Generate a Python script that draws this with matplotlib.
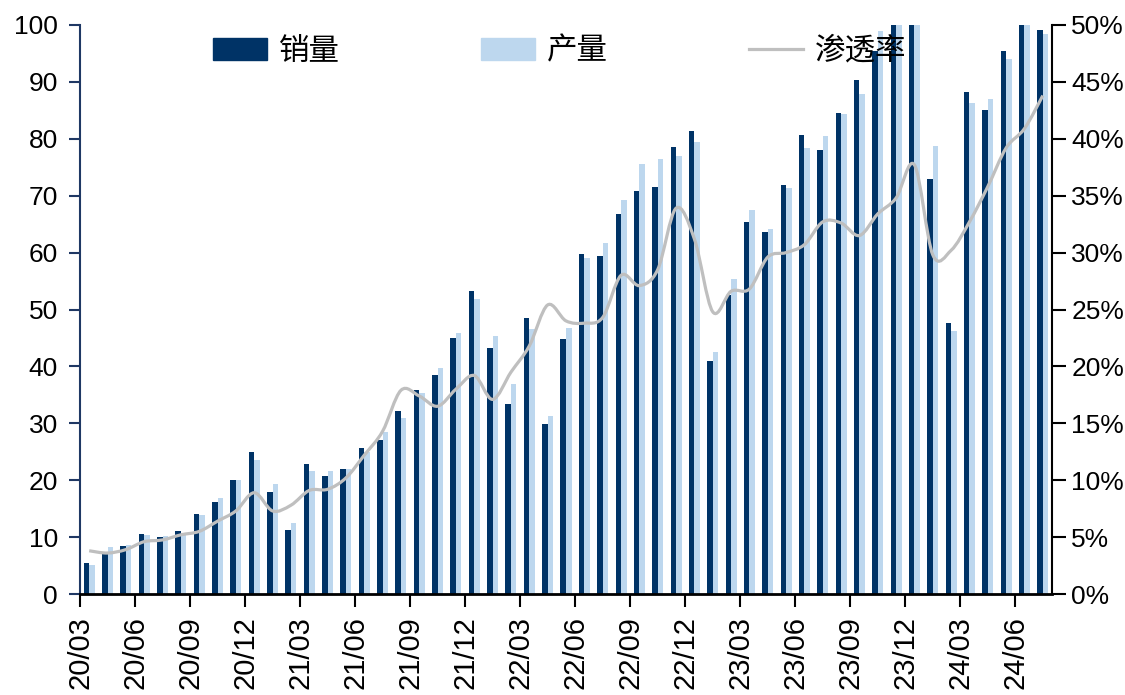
import numpy as np
import matplotlib
matplotlib.use("Agg")
import matplotlib.pyplot as plt
from matplotlib.patches import Patch, PathPatch
from matplotlib.lines import Line2D
from matplotlib.path import Path

plt.rcParams["font.family"] = ["Liberation Sans", "Noto Sans CJK SC", "DejaVu Sans"]

# 月度数据 20/03 - 24/07
months = [f"{y:02d}/{m:02d}" for y in range(20, 25) for m in range(1, 13)]
months = months[months.index("20/03"):months.index("24/07") + 1]

sales = [5.4, 7.2, 8.4, 10.5, 10.0, 11.0, 14.0, 16.1, 20.1, 25.0, 18.0, 11.2,
         22.8, 20.8, 21.9, 25.7, 27.1, 32.2, 35.9, 38.5, 45.0, 53.2, 43.3, 33.4,
         48.5, 29.9, 44.8, 59.7, 59.4, 66.7, 70.8, 71.5, 78.6, 81.4, 41.0, 52.5,
         65.3, 63.7, 71.8, 80.6, 78.1, 84.6, 90.3, 95.5, 112.0, 119.0, 73.0, 47.7,
         88.3, 85.0, 95.5, 104.0, 99.1]
output = [5.1, 8.2, 8.6, 10.3, 10.2, 10.7, 13.8, 16.8, 20.0, 23.6, 19.4, 12.4,
          21.7, 21.7, 21.9, 24.9, 28.5, 31.0, 35.4, 39.8, 45.9, 51.8, 45.4, 36.9,
          46.6, 31.3, 46.8, 59.0, 61.6, 69.2, 75.5, 76.4, 76.9, 79.5, 42.6, 55.3,
          67.4, 64.1, 71.3, 78.4, 80.5, 84.3, 87.9, 98.9, 110.0, 123.0, 78.8, 46.2,
          86.3, 87.0, 94.0, 102.0, 98.4]
penetration = [3.8, 3.6, 3.9, 4.6, 4.75, 5.2, 5.5, 6.4, 7.3, 8.9, 7.3, 7.8,
               9.1, 9.2, 10.2, 12.2, 14.3, 17.9, 17.4, 16.5, 18.0, 19.2, 17.1, 19.5,
               21.8, 25.4, 24.0, 23.8, 24.3, 28.0, 27.1, 28.5, 33.9, 31.2, 24.8, 26.6,
               26.8, 29.6, 30.0, 30.7, 32.7, 32.6, 31.5, 33.4, 34.8, 37.7, 29.8, 30.2,
               32.7, 35.8, 39.2, 40.9, 43.8]

DARK = "#003366"
LIGHT = "#BDD7EE"
GREY = "#BFBFBF"
NAVY_AXIS = "#1F3864"


def smooth_path(xs, ys):
    """平滑折线（类似 Excel 平滑线），用三次贝塞尔段连接原始数据点。"""
    pts = np.column_stack([xs, ys]).astype(float)
    n = len(pts)
    verts = [pts[0]]
    codes = [Path.MOVETO]
    for i in range(n - 1):
        p0 = pts[max(i - 1, 0)]
        p1 = pts[i]
        p2 = pts[i + 1]
        p3 = pts[min(i + 2, n - 1)]
        c1 = p1 + (p2 - p0) / 6.0
        c2 = p2 - (p3 - p1) / 6.0
        verts += [c1, c2, p2]
        codes += [Path.CURVE4] * 3
    return Path(verts, codes)


x = np.arange(len(months))
fig = plt.figure(figsize=(11.25, 6.95), dpi=100)
ax = fig.add_axes([80 / 1125, 1 - 594 / 695, 972 / 1125, 569 / 695])

bw = 0.3
ax.bar(x - bw / 2, sales, width=bw, color=DARK, zorder=2)
ax.bar(x + bw / 2, output, width=bw, color=LIGHT, zorder=2)
ax.set_ylim(0, 100)
ax.set_xlim(-0.5, len(months) - 0.5)
ax.set_yticks(np.arange(0, 101, 10))

tick_idx = [i for i, m in enumerate(months) if m[-2:] in ("03", "06", "09", "12")]
ax.set_xticks([i - 0.5 for i in tick_idx])
ax.set_xticklabels([months[i] for i in tick_idx], rotation=90, fontsize=21)
ax.tick_params(axis="x", length=9, width=1.5, direction="out", pad=7)
ax.tick_params(axis="y", length=8, width=1.5, color=NAVY_AXIS, labelsize=19, pad=8)

for s in ("top", "right"):
    ax.spines[s].set_visible(False)
ax.spines["left"].set_color(NAVY_AXIS)
ax.spines["left"].set_linewidth(1.5)
ax.spines["bottom"].set_linewidth(2)

ax2 = ax.twinx()
ax2.set_ylim(0, 50)
ax2.set_yticks(np.arange(0, 51, 5))
ax2.set_yticklabels([f"{v}%" for v in range(0, 51, 5)])
ax2.tick_params(axis="y", length=10, width=1.5, labelsize=19, pad=4)
for s in ("top", "left", "bottom"):
    ax2.spines[s].set_visible(False)
ax2.spines["right"].set_linewidth(1.5)
ax2.add_patch(PathPatch(smooth_path(x, penetration), facecolor="none",
                        edgecolor=GREY, lw=2.3, zorder=3))

handles = [Patch(color=DARK), Patch(color=LIGHT), Line2D([], [], color=GREY, lw=2.3)]
ax2.legend(handles, ["销量", "产量", "渗透率"], ncol=3, frameon=False,
           loc="center left", bbox_to_anchor=(213 / 1125, 1 - 51.5 / 695),
           bbox_transform=fig.transFigure, borderpad=0, borderaxespad=0,
           fontsize=22, handlelength=1.77, handleheight=0.7,
           handletextpad=0.4, columnspacing=4.6)

fig.savefig("out.png", dpi=100)
